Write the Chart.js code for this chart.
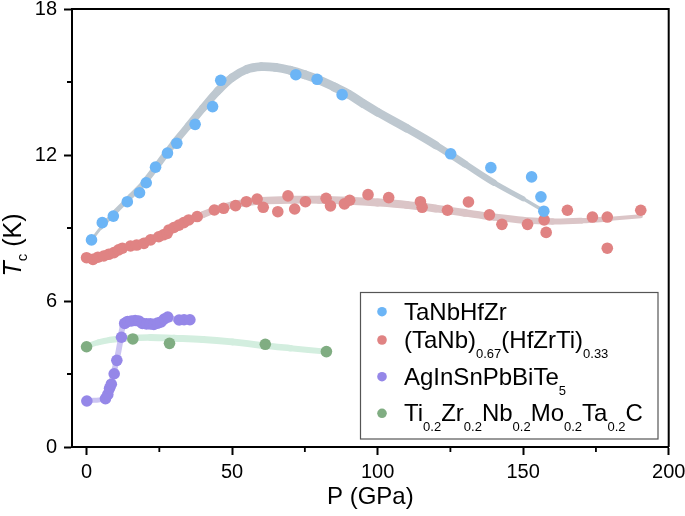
<!DOCTYPE html>
<html>
<head>
<meta charset="utf-8">
<script src="https://cdn.jsdelivr.net/npm/chart.js@4.4.0/dist/chart.umd.min.js"></script>
<style>
  html, body { margin: 0; padding: 0; background: #fff; }
</style>
</head>
<body>
<canvas id="tcChart" width="685" height="516"></canvas>
<script>
var xTicks = [0, 50, 100, 150, 200];
var xMinor = [25, 75, 125, 175];
var yTicks = [0, 6, 12, 18];
var yMinor = [3, 9, 15];

// TaNbHfZr
var taNbP  = [1.7, 5.4, 9.2, 14.0, 18.2, 20.5, 23.7, 27.8, 31.0, 37.3, 43.3, 46.1, 71.9, 79.2, 87.8, 125.1, 138.9, 152.9, 156.1, 157.1];
var taNbTc = [8.51, 9.22, 9.49, 10.08, 10.45, 10.86, 11.50, 12.08, 12.48, 13.26, 13.99, 15.07, 15.30, 15.11, 14.48, 12.05, 11.48, 11.10, 10.28, 9.69];
var taNbFitP  = [1.7, 5, 10, 15, 20, 25, 30, 35, 40, 45, 50, 55, 60, 65, 70, 75, 80, 85, 90, 95, 100, 110, 120, 130, 140, 150, 156.5];
var taNbFitTc = [8.5, 9.02, 9.68, 10.28, 10.9, 11.68, 12.48, 13.2, 13.93, 14.62, 15.18, 15.52, 15.63, 15.6, 15.48, 15.3, 15.08, 14.8, 14.5, 14.12, 13.76, 13.1, 12.4, 11.63, 10.86, 10.2, 9.75];

// (TaNb)0.67(HfZrTi)0.33
var hfP  = [0.0, 2.2, 3.9, 5.9, 7.6, 9.4, 11.0, 12.3, 15.1, 17.2, 19.7, 22.0, 24.8, 26.4, 27.7, 28.3, 30.0, 31.7, 33.4, 35.1, 38.0, 43.9, 47.1, 51.2, 54.9, 58.6, 60.7, 65.7, 69.2, 71.5, 75.2, 82.3, 83.8, 88.6, 90.4, 96.7, 103.8, 114.7, 115.3, 124.0, 131.2, 138.4, 142.7, 151.5, 157.2, 157.9, 165.2, 173.8, 178.9, 178.9, 190.4];
var hfTc = [7.78, 7.71, 7.8, 7.85, 7.92, 7.99, 8.1, 8.17, 8.26, 8.3, 8.37, 8.51, 8.64, 8.72, 8.78, 8.92, 9.02, 9.12, 9.22, 9.33, 9.47, 9.74, 9.81, 9.92, 10.08, 10.19, 9.85, 9.67, 10.32, 9.78, 10.08, 10.22, 9.91, 9.99, 10.14, 10.37, 10.25, 10.08, 9.85, 9.73, 10.07, 9.54, 9.15, 9.15, 9.33, 8.82, 9.73, 9.45, 9.45, 8.17, 9.73];
var hfFitP  = [-0.3, 5, 10, 15, 20, 25, 30, 35, 40, 45, 50, 55, 60, 70, 80, 90, 100, 110, 120, 130, 140, 150, 160, 170, 180, 190.4];
var hfFitTc = [7.75, 7.88, 8.08, 8.28, 8.48, 8.72, 8.98, 9.28, 9.55, 9.78, 9.95, 10.05, 10.12, 10.16, 10.16, 10.12, 10.05, 9.95, 9.8, 9.62, 9.45, 9.32, 9.27, 9.3, 9.38, 9.48];

// AgInSnPbBiTe5
var agP  = [0.1, 6.5, 7.3, 7.9, 8.5, 9.5, 10.4, 12.0, 13.1, 14.1, 15.4, 16.7, 17.9, 19.2, 20.6, 21.9, 23.1, 24.4, 25.6, 26.7, 27.9, 31.8, 33.5, 35.5];
var agTc = [1.89, 1.99, 2.16, 2.41, 2.58, 3.01, 3.56, 4.51, 5.08, 5.16, 5.18, 5.2, 5.18, 5.08, 5.06, 5.06, 5.04, 5.09, 5.14, 5.26, 5.34, 5.22, 5.23, 5.23];
var agFitP  = [0.1, 6.0, 7.8, 9.2, 10.5, 11.6, 12.4, 13.5, 16, 20, 24, 27.5, 31, 35.5];
var agFitTc = [1.9, 2.0, 2.4, 3.0, 3.65, 4.35, 4.95, 5.12, 5.18, 5.1, 5.12, 5.3, 5.24, 5.23];

// Ti0.2Zr0.2Nb0.2Mo0.2Ta0.2C
var carbP  = [0.0, 15.9, 28.5, 61.4, 82.4];
var carbTc = [4.12, 4.44, 4.26, 4.22, 3.92];
var carbFitP  = [0.0, 4, 8, 15, 22, 30, 40, 50, 60, 70, 82.4];
var carbFitTc = [4.14, 4.3, 4.4, 4.48, 4.5, 4.47, 4.42, 4.32, 4.18, 4.06, 3.92];

// legend labels: [text, isSubscript]
var seriesNames = [
  [['TaNbHfZr', false]],
  [['(TaNb)', false], ['0.67', true], ['(HfZrTi)', false], ['0.33', true]],
  [['AgInSnPbBiTe', false], ['5', true]],
  [['Ti', false], ['0.2', true], ['Zr', false], ['0.2', true], ['Nb', false], ['0.2', true], ['Mo', false], ['0.2', true], ['Ta', false], ['0.2', true], ['C', false]]
];
var pointColors = ['#6cb5f6', '#e08383', '#9587e8', '#80ad82'];
var bandColors  = ['#bec8d0', '#dbc5c7', '#cbc4f2', '#d3eedf'];

var FONT = '"Liberation Sans", Arial, Helvetica, sans-serif';

function zip(xs, ys) {
  return xs.map(function (x, i) { return { x: x, y: ys[i] }; });
}

function taper(xs, maxW, endW) {
  var x0 = xs[0], x1 = xs[xs.length - 1];
  return function (c) {
    var xm = (xs[c.p0DataIndex] + xs[c.p1DataIndex]) / 2;
    var t = Math.min(1, Math.max(0, (xm - x0) / (x1 - x0)));
    return endW + (maxW - endW) * Math.sqrt(Math.sin(Math.PI * t));
  };
}

function pointSet(xs, ys, color) {
  return {
    data: zip(xs, ys), showLine: false, order: 1,
    pointRadius: 5.8, pointBorderWidth: 0,
    pointBackgroundColor: color, borderColor: color
  };
}

function bandSet(xs, ys, color, maxW, endW) {
  return {
    data: zip(xs, ys), order: 2, pointRadius: 0,
    borderColor: color, borderWidth: maxW, tension: 0.4,
    borderCapStyle: 'round', borderJoinStyle: 'round',
    segment: { borderWidth: taper(xs, maxW, endW) }
  };
}

function drawRich(ctx, parts, x, y, size, subSize, drop) {
  parts.forEach(function (p) {
    ctx.font = (p[1] ? subSize : size) + 'px ' + FONT;
    ctx.fillText(p[0], x, y + (p[1] ? drop : 0));
    x += ctx.measureText(p[0]).width;
  });
}

// no automatic label overflow padding: keep the plot box where the figure has it
function noPad(s) {
  s.paddingTop = 0; s.paddingBottom = 0; s.paddingLeft = 0; s.paddingRight = 0;
}

var extras = {
  id: 'extras',
  afterDraw: function (chart) {
    var ctx = chart.ctx, a = chart.chartArea;
    var xs = chart.scales.x, ys = chart.scales.y;
    ctx.save();
    // top and right frame
    ctx.strokeStyle = '#000';
    ctx.lineWidth = 2;
    ctx.beginPath();
    ctx.moveTo(a.left, a.top);
    ctx.lineTo(a.right, a.top);
    ctx.lineTo(a.right, a.bottom);
    ctx.stroke();
    // minor ticks
    ctx.lineWidth = 1.8;
    ctx.beginPath();
    xMinor.forEach(function (v) {
      var px = xs.getPixelForValue(v);
      ctx.moveTo(px, a.bottom);
      ctx.lineTo(px, a.bottom + 5);
    });
    yMinor.forEach(function (v) {
      var py = ys.getPixelForValue(v);
      ctx.moveTo(a.left, py);
      ctx.lineTo(a.left - 5, py);
    });
    ctx.stroke();

    // axis titles
    ctx.fillStyle = '#000';
    ctx.textBaseline = 'alphabetic';
    ctx.textAlign = 'left';
    ctx.font = '24px ' + FONT;
    var xt = 'P (GPa)';
    var xw = ctx.measureText(xt).width;
    ctx.fillText(xt, (a.left + a.right) / 2 - xw / 2, 504);

    ctx.save();
    ctx.translate(21, 245);
    ctx.rotate(-Math.PI / 2);
    ctx.font = 'italic 25px ' + FONT;
    var wT = ctx.measureText('T').width;
    ctx.font = '15px ' + FONT;
    var wc = ctx.measureText('c').width;
    ctx.font = '25px ' + FONT;
    var wK = ctx.measureText(' (K)').width;
    var sx = -(wT + wc + wK) / 2;
    ctx.font = 'italic 25px ' + FONT;
    ctx.fillText('T', sx, 0);
    ctx.font = '15px ' + FONT;
    ctx.fillText('c', sx + wT, 6);
    ctx.font = '25px ' + FONT;
    ctx.fillText(' (K)', sx + wT + wc, 0);
    ctx.restore();

    // legend
    var bx = 360.5, by = 292.5, bw = 297.5, bh = 146.5;
    ctx.fillStyle = '#fff';
    ctx.fillRect(bx, by, bw, bh);
    ctx.strokeStyle = '#555';
    ctx.lineWidth = 1.2;
    ctx.strokeRect(bx, by, bw, bh);
    var rows = [311.7, 340, 376.7, 413.3];
    seriesNames.forEach(function (parts, i) {
      ctx.fillStyle = pointColors[i];
      ctx.beginPath();
      ctx.arc(382, rows[i], 4.8, 0, Math.PI * 2);
      ctx.fill();
      ctx.fillStyle = '#000';
      drawRich(ctx, parts, 404, rows[i] + 7.8, 24, 13, 10);
    });
    ctx.restore();
  }
};

var tickFont = { family: FONT, size: 20 };

new Chart(document.getElementById('tcChart'), {
  type: 'line',
  data: {
    datasets: [
      pointSet(taNbP, taNbTc, pointColors[0]),
      pointSet(hfP, hfTc, pointColors[1]),
      pointSet(agP, agTc, pointColors[2]),
      pointSet(carbP, carbTc, pointColors[3]),
      bandSet(taNbFitP, taNbFitTc, bandColors[0], 9, 1.5),
      bandSet(hfFitP, hfFitTc, bandColors[1], 8, 2.5),
      bandSet(agFitP, agFitTc, bandColors[2], 6, 4),
      bandSet(carbFitP, carbFitTc, bandColors[3], 7, 5)
    ]
  },
  options: {
    responsive: false,
    animation: false,
    events: [],
    layout: { padding: { top: 9, right: 16.3, left: 0, bottom: 0 }, autoPadding: false },
    plugins: { legend: { display: false }, tooltip: { enabled: false } },
    scales: {
      x: {
        type: 'linear', min: -5, max: 200,
        afterBuildTicks: function (s) { s.ticks = xTicks.map(function (v) { return { value: v }; }); },
        afterFit: function (s) { s.height = 69; noPad(s); },
        grid: { drawOnChartArea: false, drawTicks: true, tickLength: 8, tickWidth: 2, tickColor: '#000' },
        border: { display: true, color: '#000', width: 2 },
        ticks: { color: '#000', font: tickFont, padding: 5, maxRotation: 0, autoSkip: false }
      },
      y: {
        type: 'linear', min: 0, max: 18,
        afterBuildTicks: function (s) { s.ticks = yTicks.map(function (v) { return { value: v }; }); },
        afterFit: function (s) { s.width = 72; noPad(s); },
        grid: { drawOnChartArea: false, drawTicks: true, tickLength: 8, tickWidth: 2, tickColor: '#000' },
        border: { display: true, color: '#000', width: 2 },
        ticks: { color: '#000', font: tickFont, padding: 7, autoSkip: false }
      }
    }
  },
  plugins: [extras]
});
</script>
</body>
</html>
